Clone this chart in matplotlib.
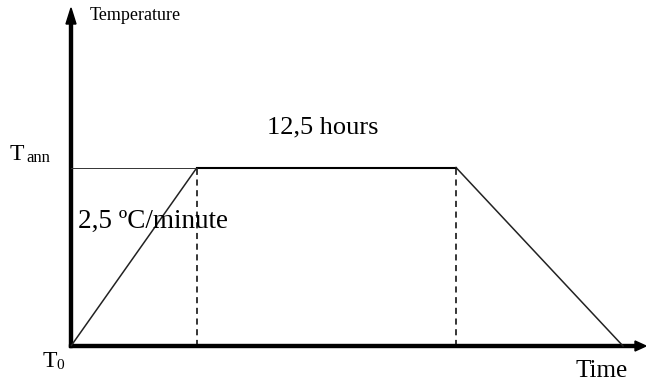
import matplotlib
matplotlib.use("Agg")
import matplotlib.pyplot as plt

# Schematic annealing profile (axis units, origin at T0 / time 0)
time_points = [0, 126, 385, 552]
temp_points = [0, 178.5, 178.5, 0]
T_ann = 178.5
x_max = 575
y_max = 338

label_y = "Temperature"
label_x = "Time"
label_plateau = "12,5 hours"
label_rate = "2,5 ºC/minute"

plt.rcParams['font.family'] = ['Liberation Serif', 'DejaVu Serif']

fig = plt.figure(figsize=(6.46, 3.83), dpi=100)
ax = fig.add_axes([71/646, 37/383, (646-71)/646, (346-8)/383])
ax.set_xlim(0, x_max)
ax.set_ylim(0, y_max)
ax.axis('off')

# profile
ax.plot(time_points[:2], temp_points[:2], color='#222222', lw=1.1, solid_capstyle='butt', clip_on=False)
ax.plot(time_points[1:3], temp_points[1:3], color='black', lw=1.5, clip_on=False)
ax.plot(time_points[2:], temp_points[2:], color='#222222', lw=1.1, clip_on=False)
# thin reference line at T_ann
ax.plot([0, time_points[1]], [T_ann, T_ann], color='#333333', lw=0.7, clip_on=False)
# dashed verticals
for t in time_points[1:3]:
    ax.plot([t, t], [0, T_ann], color='black', lw=1.1, dashes=(4, 3), clip_on=False)

# axes arrows
ax.arrow(0, -1.5, 0, y_max + 1.5, width=3, head_width=10, head_length=16,
         length_includes_head=True, color='black', clip_on=False)
ax.arrow(-1.5, 0, x_max + 1.5, 0, width=3, head_width=10, head_length=11,
         length_includes_head=True, color='black', clip_on=False)

# texts
ax.text(19, 326, label_y, fontsize=13, va='baseline', ha='left')
ax.text(504, -31, label_x, fontsize=18, va='baseline', ha='left')
ax.text(196, 219, label_plateau, fontsize=19, va='center', ha='left')
ax.text(7, 118, label_rate, fontsize=19.5, va='baseline', ha='left')
ax.text(-61, 186, "T", fontsize=17, va='baseline', ha='left', clip_on=False)
ax.text(-45, 184, "ann", fontsize=12, va='baseline', ha='left', clip_on=False)
ax.text(-28, -21, "T", fontsize=17, va='baseline', ha='left', clip_on=False)
ax.text(-15, -23, "0", fontsize=11, va='baseline', ha='left', clip_on=False)

fig.savefig("out.png", dpi=100)
